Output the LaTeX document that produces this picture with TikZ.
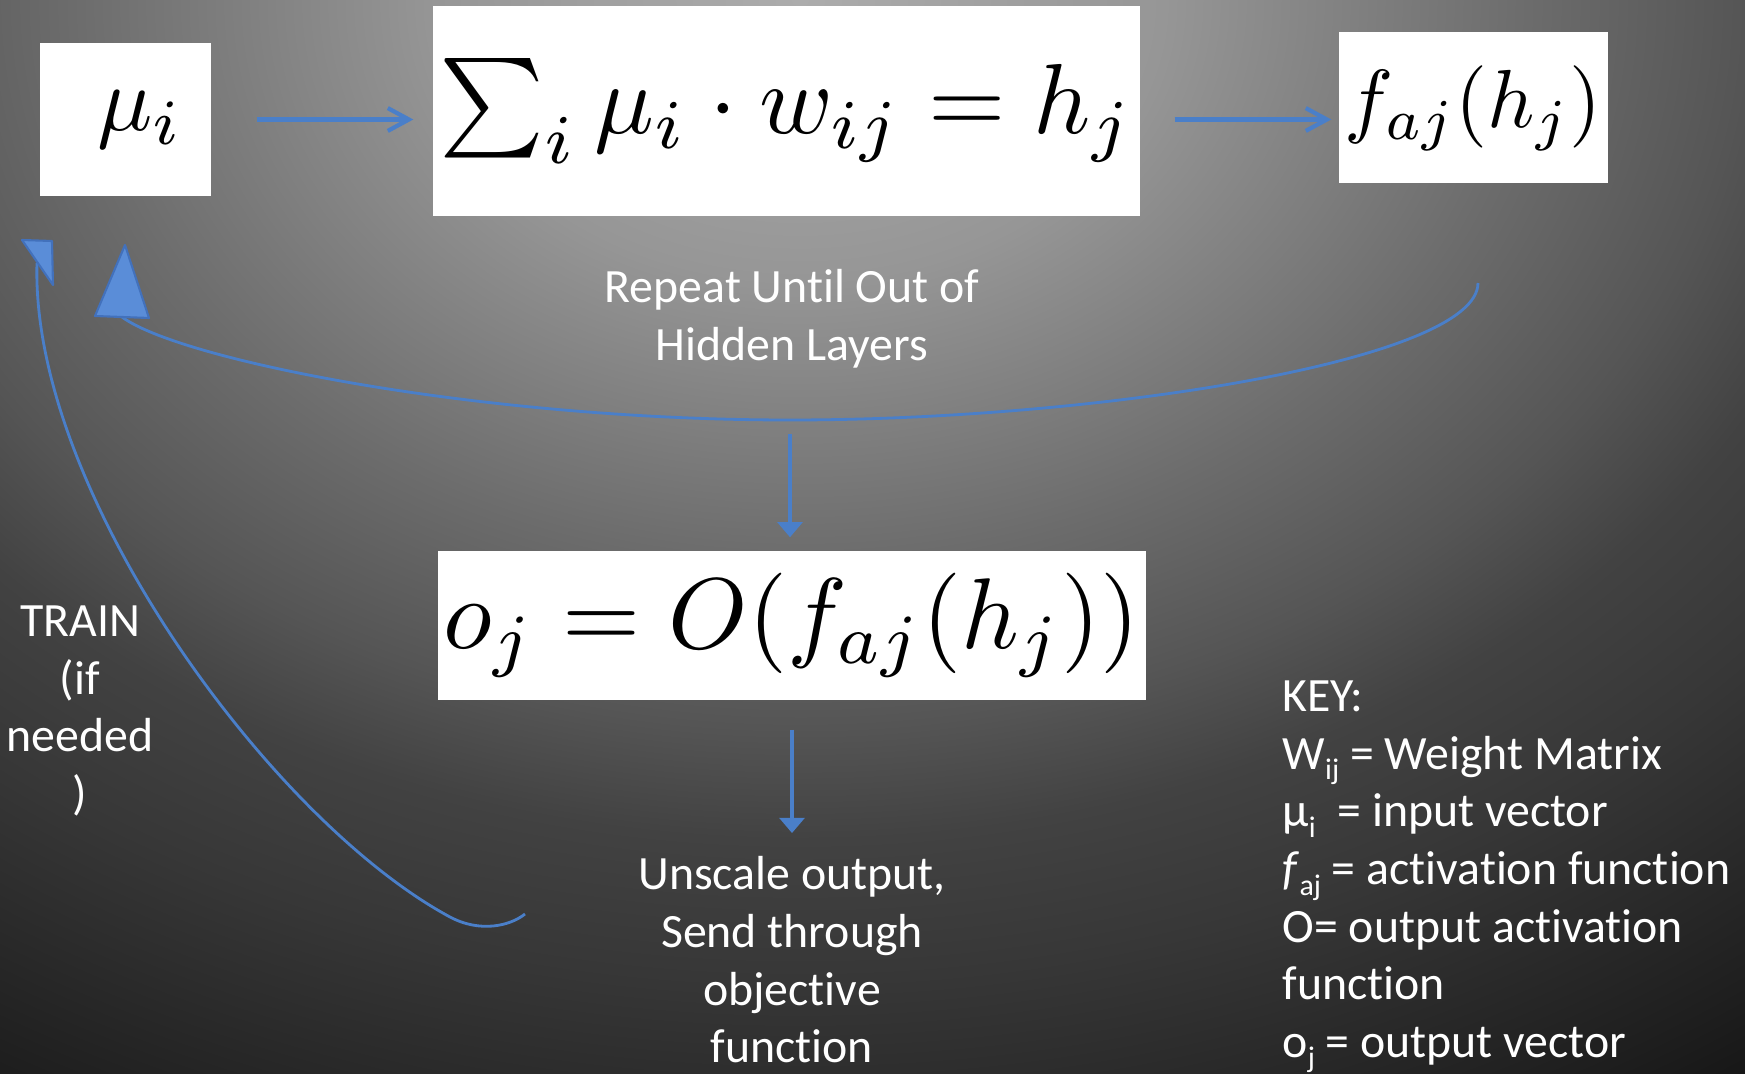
\documentclass[tikz,border=0pt]{standalone}
\usepackage[no-math]{fontspec}
\setmainfont{Carlito}[Ligatures={NoCommon}]
\usepackage{amsmath, graphicx}
\usepackage{tikz}
\usetikzlibrary{arrows.meta, positioning, calc}

\setlength{\lineskiplimit}{-20pt}
\newcommand{\lowsub}[1]{\raisebox{-3pt}{\fontsize{8.5}{8.5}\selectfont #1}}

\definecolor{flow}{HTML}{4A7FC9}
\definecolor{headfill}{HTML}{5A8DD8}
\definecolor{headline}{HTML}{4271BC}
\definecolor{bgA}{HTML}{ACACAC}
\definecolor{bgB}{HTML}{969696}
\definecolor{bgC}{HTML}{6C6C6C}
\definecolor{bgD}{HTML}{555555}
\definecolor{bgE}{HTML}{424242}
\definecolor{bgF}{HTML}{373737}
\definecolor{bgG}{HTML}{1E1E1E}
\definecolor{bgH}{HTML}{0C0C0C}
\pgfdeclareradialshading{backdrop}{\pgfpoint{0bp}{0bp}}{color(0bp)=(bgA); color(10bp)=(bgB); color(20bp)=(bgC); color(26bp)=(bgD); color(30bp)=(bgE); color(35bp)=(bgF); color(44bp)=(bgG); color(50bp)=(bgH)}

\begin{document}
\begin{tikzpicture}[
    eqbox/.style={fill=white, inner sep=0pt},
    note/.style={text=white, font=\fontsize{13.6}{16.4}\selectfont, align=center, inner sep=0pt},
    arr/.style={-{Straight Barb[length=6pt, width=6.5pt]}, line width=1.2pt, color=flow},
    down/.style={-{Triangle[length=4.3pt, width=7pt]}, line width=1.4pt, color=flow},
    loop/.style={line width=0.8pt, color=flow},
    head/.style={fill=headfill, draw=headline, line width=0.6pt, line join=round}
]
    \useasboundingbox (0,0) rectangle (17.45,-10.74);
    \begin{scope}
        \clip (0,0) rectangle (17.45,-10.74);
        \pgftransformshift{\pgfpoint{8cm}{0cm}}
        \pgftransformxscale{10.318}
        \pgftransformyscale{7.937}
        \pgflowlevelsynccm
        \pgfuseshading{backdrop}
    \end{scope}

    % equation boxes
    \node[eqbox, minimum width=1.71cm, minimum height=1.53cm] (mu) at (1.255,-1.195)
        {\hspace*{0.3cm}\resizebox{0.86cm}{!}{$\mu_i$}};
    \node[eqbox, minimum width=7.07cm, minimum height=2.10cm] (sum) at (7.865,-1.11)
        {\resizebox{6.93cm}{!}{$\sum_i \mu_i \cdot w_{ij} = h_j$}};
    \node[eqbox, minimum width=2.69cm, minimum height=1.51cm] (fa) at (14.735,-1.08)
        {\resizebox{2.57cm}{!}{$f_{aj}(h_j)$}};
    \node[eqbox, minimum width=7.08cm, minimum height=1.49cm] (oj) at (7.92,-6.255)
        {\resizebox{6.96cm}{!}{$o_j = O(f_{aj}(h_j))$}};

    % texts
    \node[note] (loopnote) at (7.92,-3.19) {Repeat Until Out of\\Hidden Layers};
    \node[note] (unscale) at (7.92,-9.60) {Unscale output,\\Send through\\objective\\function};
    \node[note] (train) at (0.80,-7.11) {TRAIN\\(if\\needed\\)};
    \node[note, align=left, anchor=west] (key) at (12.82,-8.77)
        {KEY:\\W\lowsub{ij} = Weight Matrix\\μ\lowsub{i}\ \ = input vector\\
         \textit{f}\lowsub{aj} = activation function\\O= output activation\\function\\
         o\lowsub{j} = output vector};

    % forward pass
    \draw[arr, shorten <=0.45cm, shorten >=0.19cm] (mu.east) -- (mu.east -| sum.west);
    \draw[arr, shorten <=0.34cm, shorten >=0.07cm] (mu.east -| sum.east) -- (mu.east -| fa.west);

    % repeat loop
    \coordinate (fold) at (14.78,-2.83);
    \coordinate (low) at (7.90,-4.20);
    \coordinate (back) at (1.22,-3.17);
    \draw[loop] (fold) .. controls (14.78,-3.6) and (11.0,-4.20) .. (low)
        .. controls (4.8,-4.20) and (1.8,-3.6) .. (back);
    \filldraw[head] (1.25,-2.45) -- (1.49,-3.18) -- (0.95,-3.16) -- cycle;

    \draw[down, shorten <=0.14cm, shorten >=0.13cm] (low) -- (low |- oj.north);
    \draw[down, shorten <=0.29cm, shorten >=0.23cm] (oj.south) -- (unscale.north);

    % training loop
    \coordinate (hook) at (5.25,-9.14);
    \coordinate (bend) at (4.50,-9.17);
    \coordinate (up) at (0.37,-2.63);
    \draw[loop] (hook) .. controls (5.10,-9.26) and (4.80,-9.33) .. (bend)
        .. controls (2.7,-8.2) and (0.3,-4.9) .. (up);
    \filldraw[head] (0.22,-2.40) -- (0.52,-2.41) -- (0.53,-2.85) -- cycle;
\end{tikzpicture}
\end{document}
